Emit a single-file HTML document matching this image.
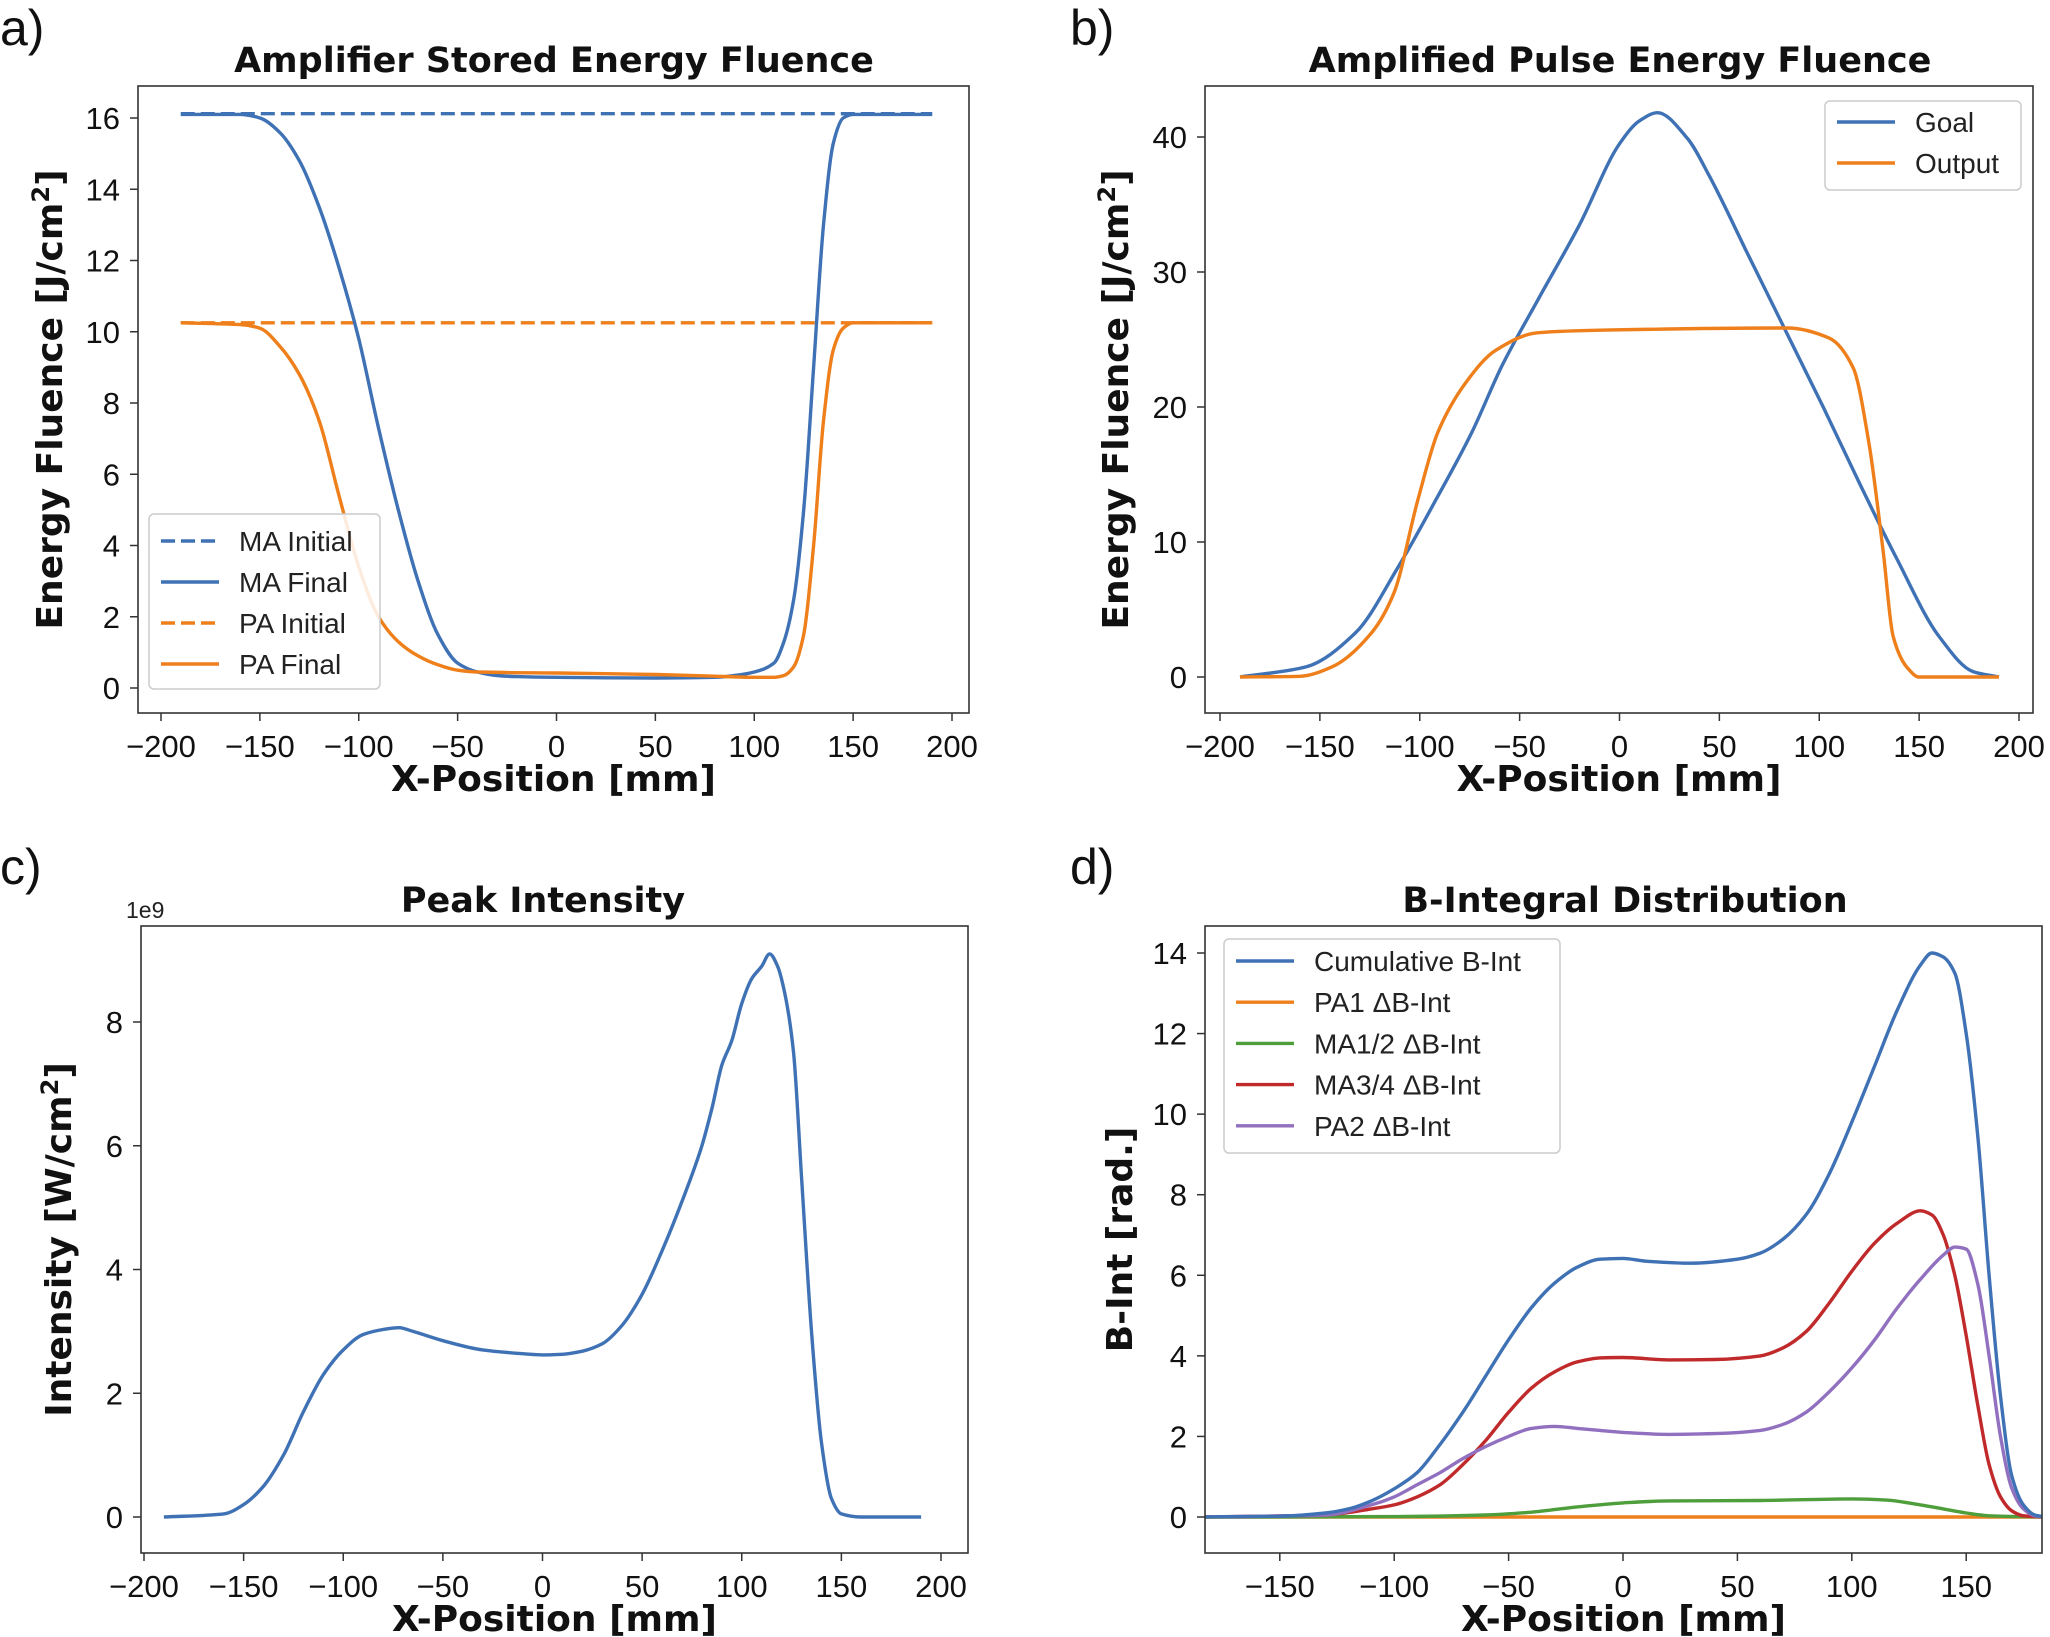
<!DOCTYPE html>
<html><head><meta charset="utf-8"><style>
html,body{margin:0;padding:0;background:#fff;}
svg{display:block;font-family:"DejaVu Sans","Liberation Sans",sans-serif;}
.tick{font-family:"Liberation Sans",sans-serif;font-size:31px;fill:#111;}
.title{font-size:35px;font-weight:bold;fill:#111;}
.alabel{font-size:36px;font-weight:bold;fill:#111;}
.leg{font-family:"Liberation Sans",sans-serif;font-size:28px;fill:#222;}
.plabel{font-family:"Liberation Sans",sans-serif;font-size:50px;fill:#111;}
</style></head><body>
<svg id="fig" width="2050" height="1637" viewBox="0 0 2050 1637"></svg>
<script>
// ---- Panel a data ----
const aMaX=[-190,-160,-150,-140,-130,-120,-110,-100,-90,-80,-70,-60,-50,-40,-30,-20,0,50,80,90,100,110,115,120,125,130,135,140,145,150,190];
const aMaFinal=[16.1,16.1,16.0,15.6,14.8,13.5,11.8,9.8,7.3,5.0,3.0,1.5,0.7,0.45,0.35,0.32,0.3,0.28,0.3,0.35,0.45,0.7,1.3,2.5,5,9,13,15.3,16,16.1,16.1];
const aPaX=[-190,-160,-150,-140,-130,-120,-110,-100,-90,-80,-70,-60,-50,-40,0,50,80,100,110,115,120,125,130,135,140,145,150,190];
const aPaFinal=[10.25,10.2,10.1,9.6,8.8,7.5,5.4,3.4,2.0,1.3,0.9,0.65,0.5,0.45,0.42,0.38,0.33,0.3,0.3,0.35,0.6,1.5,4,7.5,9.5,10.1,10.25,10.25];
const aInitX=[-190,190];
const aMaInit=[16.12,16.12];
const aPaInit=[10.25,10.25];
// ---- Panel b data ----
const bGoalX=[-190,-157,-132,-111,-92,-74,-59,-41,-20,0,10,19,34,45,64,83,102,120,139,160,177,190];
const bGoal=[0,0.75,3.3,8.1,13.1,18.1,23,27.9,33.5,39.5,41.2,41.8,39.9,37.1,31.4,25.7,20,14.4,8.7,3,0.4,0];
const bOutX=[-190,-160,-144,-124,-113,-101,-91,-77,-62,-41,-7,84,105,117,125,132,137,144,150,190];
const bOut=[0,0.05,0.75,3.3,6.2,13.1,18.1,21.8,24.2,25.5,25.7,25.85,25.1,22.9,17.2,9.3,3,0.7,0,0];
// ---- Panel c data (x1e9) ----
const cX=[-190,-160,-150,-140,-130,-120,-110,-100,-90,-80,-72,-65,-50,-30,-10,0,10,20,30,40,50,60,70,80,85,90,95,100,105,110,114,118,122,126,130,135,140,145,150,160,190];
const cI=[0,0.05,0.2,0.5,1.0,1.7,2.3,2.7,2.95,3.03,3.06,3.0,2.85,2.7,2.64,2.62,2.63,2.68,2.8,3.1,3.6,4.3,5.1,6.0,6.6,7.3,7.7,8.3,8.7,8.9,9.1,8.9,8.4,7.5,5.5,3,1.2,0.3,0.05,0,0];
// ---- Panel d data ----
const dCumX=[-185,-150,-130,-120,-110,-100,-90,-80,-70,-60,-50,-40,-30,-20,-10,0,10,30,50,60,70,80,90,100,110,120,130,135,140,145,150,155,160,165,170,175,180,185];
const dCum=[0,0.02,0.1,0.2,0.4,0.7,1.1,1.8,2.6,3.5,4.4,5.2,5.8,6.2,6.4,6.42,6.35,6.3,6.4,6.55,6.9,7.5,8.5,9.8,11.2,12.6,13.7,14.0,13.9,13.5,12,9.5,6,3,1,0.3,0.05,0];
const dRedX=[-185,-130,-110,-100,-90,-80,-70,-60,-50,-40,-30,-20,-10,0,20,40,60,70,80,90,100,110,120,130,135,140,145,150,155,160,165,170,175,185];
const dRed=[0,0.05,0.2,0.3,0.5,0.8,1.3,1.9,2.6,3.2,3.6,3.85,3.95,3.96,3.9,3.91,4.0,4.2,4.6,5.3,6.1,6.8,7.3,7.6,7.5,7.0,6.0,4.5,2.8,1.3,0.5,0.15,0.03,0];
const dPurX=[-185,-130,-110,-100,-90,-80,-70,-60,-50,-40,-30,-20,-10,0,20,40,60,70,80,90,100,110,120,130,140,145,150,155,160,165,170,175,180,185];
const dPur=[0,0.05,0.3,0.5,0.8,1.1,1.45,1.75,2.0,2.2,2.25,2.2,2.15,2.1,2.05,2.07,2.15,2.3,2.6,3.1,3.7,4.4,5.2,5.9,6.5,6.7,6.65,5.8,4,2,0.7,0.2,0.03,0];
const dGrnX=[-185,-100,-60,-40,-20,0,20,60,100,115,130,140,150,160,185];
const dGrn=[0,0.01,0.05,0.12,0.25,0.35,0.4,0.41,0.45,0.42,0.3,0.2,0.1,0.03,0];
const dOrgX=[-185,185];
const dOrg=[0,0];
// ---- ticks ----
const aXT=[-200,-150,-100,-50,0,50,100,150,200], aYT=[0,2,4,6,8,10,12,14,16];
const bXT=[-200,-150,-100,-50,0,50,100,150,200], bYT=[0,10,20,30,40];
const cXT=[-200,-150,-100,-50,0,50,100,150,200], cYT=[0,2,4,6,8];
const dXT=[-150,-100,-50,0,50,100,150], dYT=[0,2,4,6,8,10,12,14];

const C={blue:'#3f71b5',orange:'#ee7f1b',green:'#4f9e3c',red:'#c02a2b',purple:'#9170c0'};
const NS='http://www.w3.org/2000/svg';
const svg=document.getElementById('fig');
function el(tag,attrs,parent,text){const e=document.createElementNS(NS,tag);for(const k in attrs)e.setAttribute(k,attrs[k]);if(text!==undefined)e.textContent=text;(parent||svg).appendChild(e);return e;}
function fmt(v){return v<0?'\u2212'+(-v):''+v;}
// monotone cubic (Fritsch-Carlson) in pixel space
function path(xs,ys,sx,sy){
  const X=xs.map(sx),Y=ys.map(sy),n=X.length;
  let d='M'+X[0].toFixed(1)+','+Y[0].toFixed(1);
  if(n<3){for(let i=1;i<n;i++)d+=' L'+X[i].toFixed(1)+','+Y[i].toFixed(1);return d;}
  const h=[],s=[];
  for(let i=0;i<n-1;i++){h[i]=X[i+1]-X[i];s[i]=(Y[i+1]-Y[i])/h[i];}
  const m=new Array(n);
  m[0]=s[0];m[n-1]=s[n-2];
  for(let i=1;i<n-1;i++){
    if(s[i-1]*s[i]<=0)m[i]=0;
    else{const w1=2*h[i]+h[i-1],w2=h[i]+2*h[i-1];m[i]=(w1+w2)/(w1/s[i-1]+w2/s[i]);}
  }
  for(let i=0;i<n-1;i++){
    const c1x=X[i]+h[i]/3,c1y=Y[i]+m[i]*h[i]/3,c2x=X[i+1]-h[i]/3,c2y=Y[i+1]-m[i+1]*h[i]/3;
    d+=' C'+c1x.toFixed(1)+','+c1y.toFixed(1)+' '+c2x.toFixed(1)+','+c2y.toFixed(1)+' '+X[i+1].toFixed(1)+','+Y[i+1].toFixed(1);
  }
  return d;
}
function panel(cfg){
  const g=el('g',{});
  
  
  const sx=v=>cfg.x0+(v-cfg.xa)*(cfg.x1-cfg.x0)/(cfg.xb-cfg.xa);
  const sy=v=>cfg.y0+(v-cfg.ya)*(cfg.y1-cfg.y0)/(cfg.yb-cfg.ya);
  const L=cfg.L,R=cfg.R,T=cfg.T,B=cfg.B;
  const clipId='clip-'+cfg.name;
  const cp=el('clipPath',{id:clipId},g);el('rect',{x:L,y:T,width:R-L,height:B-T},cp);
  const sg=el('g',{'clip-path':'url(#'+clipId+')'},g);
  cfg.series.forEach(s=>{
    const p=el('path',{d:path(s.x,s.y,sx,sy),fill:'none',stroke:s.c,'stroke-width':3.4,'stroke-linejoin':'round','stroke-dasharray':s.dash?'14,6':'none'},sg);
    
    
  });
  const fr=el('rect',{x:L,y:T,width:R-L,height:B-T,fill:'none',stroke:'#333','stroke-width':1.6},g);
  
  
  cfg.xt.forEach(v=>{const x=sx(v);el('line',{x1:x,x2:x,y1:B,y2:B+8,stroke:'#333','stroke-width':1.5},g);
    const t=el('text',{x:x,y:B+44,'text-anchor':'middle',class:'tick'},g,fmt(v));
    
    });
  cfg.yt.forEach(v=>{const y=sy(v);el('line',{x1:L-8,x2:L,y1:y,y2:y,stroke:'#333','stroke-width':1.5},g);
    const t=el('text',{x:L-18,y:y+11,'text-anchor':'end',class:'tick'},g,fmt(v));
    
    });
  const ti=el('text',{x:cfg.tx,y:T-14,'text-anchor':'middle',class:'title'},g,cfg.title);
  
  
  const xl=el('text',{x:(L+R)/2,y:B+78,'text-anchor':'middle',class:'alabel'},g,'X-Position [mm]');
  
  
  const yl=el('text',{x:0,y:0,'text-anchor':'middle',class:'alabel',transform:'translate('+cfg.ylx+','+((T+B)/2)+') rotate(-90)'},g);
  yl.innerHTML=cfg.ylabel;
  
  
  const pl=el('text',{x:cfg.px,y:cfg.py,class:'plabel'},g,cfg.letter);
  
  
  if(cfg.legend){
    const lg=cfg.legend;
    const lgG=el('g',{},g);
    
    
    el('rect',{x:lg.x,y:lg.y,width:lg.w,height:lg.h,rx:5,fill:'#fff','fill-opacity':0.85,stroke:'#ccc','stroke-width':1.5},lgG);
    lg.items.forEach((it,i)=>{
      const y=lg.y0+i*lg.dy;
      const en=el('g',{},lgG);
      
      
      el('line',{x1:lg.x+12,x2:lg.x+70,y1:y,y2:y,stroke:it.c,'stroke-width':3.4,'stroke-dasharray':it.dash?'14,6':'none'},en);
      el('text',{x:lg.x+90,y:y+10,class:'leg'},en,it.t);
    });
  }
}
const sup='<tspan font-size="24" dy="-13">2</tspan><tspan dy="13">]</tspan>';
panel({name:'panel-a-stored-fluence',L:138,R:969,T:86,B:713,x0:161,x1:952,xa:-200,xb:200,y0:688,y1:118,ya:0,yb:16,
  xt:aXT,yt:aYT,title:'Amplifier Stored Energy Fluence',tx:554,ylx:62,ylabel:'Energy Fluence [J/cm'+sup,
  letter:'a)',px:0,py:45,
  series:[{id:'ma-initial-line',x:aInitX,y:aMaInit,c:C.blue,dash:1},{id:'pa-initial-line',x:aInitX,y:aPaInit,c:C.orange,dash:1},
    {id:'ma-final-line',x:aMaX,y:aMaFinal,c:C.blue},{id:'pa-final-line',x:aPaX,y:aPaFinal,c:C.orange}],
  legend:{x:149,y:514,w:231,h:175,y0:541,dy:41,items:[{t:'MA Initial',c:C.blue,dash:1},{t:'MA Final',c:C.blue},{t:'PA Initial',c:C.orange,dash:1},{t:'PA Final',c:C.orange}]}});
panel({name:'panel-b-pulse-fluence',L:1205,R:2033,T:86,B:713,x0:1220,x1:2019,xa:-200,xb:200,y0:677,y1:137,ya:0,yb:40,
  xt:bXT,yt:bYT,title:'Amplified Pulse Energy Fluence',tx:1620,ylx:1128,ylabel:'Energy Fluence [J/cm'+sup,
  letter:'b)',px:1070,py:45,
  series:[{id:'goal-line',x:bGoalX,y:bGoal,c:C.blue},{id:'output-line',x:bOutX,y:bOut,c:C.orange}],
  legend:{x:1825,y:101,w:196,h:89,y0:122,dy:41,items:[{t:'Goal',c:C.blue},{t:'Output',c:C.orange}]}});
panel({name:'panel-c-peak-intensity',L:141,R:968,T:926,B:1553,x0:144,x1:941,xa:-200,xb:200,y0:1517,y1:1022,ya:0,yb:8,
  xt:cXT,yt:cYT,title:'Peak Intensity',tx:543,ylx:71,ylabel:'Intensity [W/cm'+sup,
  letter:'c)',px:0,py:884,
  series:[{id:'intensity-line',x:cX,y:cI,c:C.blue}]});
panel({name:'panel-d-b-integral',L:1205,R:2042,T:926,B:1553,x0:1623,x1:1623+2.288*150,xa:0,xb:150,y0:1517,y1:953,ya:0,yb:14,
  xt:dXT,yt:dYT,title:'B-Integral Distribution',tx:1625,ylx:1132,ylabel:'B-Int [rad.]',
  letter:'d)',px:1070,py:884,
  series:[{id:'pa1-dbint-line',x:dOrgX,y:dOrg,c:C.orange},{id:'ma12-dbint-line',x:dGrnX,y:dGrn,c:C.green},
    {id:'ma34-dbint-line',x:dRedX,y:dRed,c:C.red},{id:'pa2-dbint-line',x:dPurX,y:dPur,c:C.purple},{id:'cumulative-bint-line',x:dCumX,y:dCum,c:C.blue}],
  legend:{x:1224,y:939,w:336,h:214,y0:961,dy:41.2,items:[{t:'Cumulative B-Int',c:C.blue},{t:'PA1 \u0394B-Int',c:C.orange},{t:'MA1/2 \u0394B-Int',c:C.green},{t:'MA3/4 \u0394B-Int',c:C.red},{t:'PA2 \u0394B-Int',c:C.purple}]}});
const e9=el('text',{x:126,y:918,style:'font-family:Liberation Sans,sans-serif;font-size:23px;fill:#222'},svg,'1e9');


</script>
</body></html>
